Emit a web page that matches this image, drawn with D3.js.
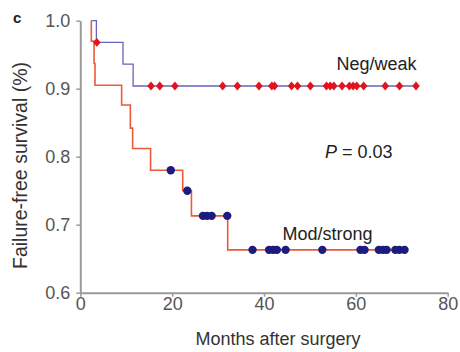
<!DOCTYPE html>
<html><head><meta charset="utf-8">
<script src="https://cdn.jsdelivr.net/npm/d3@7"></script>
<style>
html,body{margin:0;padding:0;background:#fff;}
svg{display:block;font-family:"Liberation Sans",Arial,Helvetica,sans-serif;}
</style></head>
<body>
<svg id="chart" width="460" height="352"></svg>
<script>
// Step curves (month, survival)
const negStepMonths = [2.4, 3.5, 9.3, 11.5, 73.1];
const negStepSurv   = [1.0, 0.968, 0.936, 0.904, 0.904];
const modStepMonths = [2.4, 2.4, 3.0, 3.2, 9.0, 10.9, 11.4, 15.3, 22.3, 24.2, 32.1, 70.6];
const modStepSurv   = [1.0, 0.970, 0.937, 0.905, 0.876, 0.842, 0.812, 0.780, 0.750, 0.713, 0.663, 0.663];
// Censored observations (months)
const negCensor = [3.6, 15.4, 17.3, 20.6, 31.0, 34.2, 38.9, 41.7, 42.3, 46.0, 47.3, 50.1, 53.6, 54.4, 55.2, 57.0, 58.6, 59.4, 60.2, 61.7, 66.4, 69.5, 73.1];
const modCensor = [19.7, 23.3, 26.7, 27.6, 28.6, 32.0, 37.5, 41.1, 42.0, 42.8, 44.7, 52.7, 61.0, 61.9, 65.0, 65.9, 66.7, 68.6, 69.5, 70.6];
const xTicks = [0, 20, 40, 60, 80];
const yTicks = [0.6, 0.7, 0.8, 0.9, 1.0];

const svg = d3.select("#chart");
const x = d3.scaleLinear().domain([0, 80]).range([80.3, 447.7]);
const y = d3.scaleLinear().domain([0.6, 1.0]).range([292.7, 20.7]);

const axisColor = "#9a9a9a";
const tickTextColor = "#555";

// axes
const xAxis = svg.append("g").attr("transform", `translate(0,${y(0.6)})`)
  .call(d3.axisBottom(x).tickValues(xTicks).tickFormat(d3.format("d")).tickSize(4).tickSizeOuter(0).tickPadding(1));
const yAxis = svg.append("g").attr("transform", `translate(${x(0)},0)`)
  .call(d3.axisLeft(y).tickValues(yTicks).tickFormat(d3.format(".1f")).tickSize(4).tickSizeOuter(0).tickPadding(6));
[xAxis, yAxis].forEach(g => {
  g.select(".domain").attr("stroke", axisColor).attr("stroke-width", 2);
  g.selectAll(".tick line").attr("stroke", axisColor).attr("stroke-width", 1.5);
  g.selectAll(".tick text").attr("fill", tickTextColor).attr("font-size", 18)
    .attr("font-family", "Liberation Sans, Arial, sans-serif");
});

function survAt(months, surv, t) {
  const i = d3.bisectRight(months, t) - 1;
  return surv[Math.max(0, i)];
}

const line = d3.line().x(d => x(d[0])).y(d => y(d[1])).curve(d3.curveStepAfter);
const modData = modStepMonths.map((m, i) => [m, modStepSurv[i]]);
const negData = negStepMonths.map((m, i) => [m, negStepSurv[i]]);

svg.append("path").datum(modData).attr("d", line)
  .attr("fill", "none").attr("stroke", "#ec5a3a").attr("stroke-width", 1.6);
svg.append("path").datum(negData).attr("d", line)
  .attr("fill", "none").attr("stroke", "#6464bc").attr("stroke-width", 1.3);

// censor marks
svg.append("g").selectAll("circle").data(modCensor).join("circle")
  .attr("cx", d => x(d)).attr("cy", d => y(survAt(modStepMonths, modStepSurv, d)))
  .attr("r", 4.2).attr("fill", "#1c1c7e");

const diamond = {draw(ctx, size) { const w = 3.8, h = 4.4; ctx.moveTo(0, -h); ctx.lineTo(w, 0); ctx.lineTo(0, h); ctx.lineTo(-w, 0); ctx.closePath(); }};
svg.append("g").selectAll("path").data(negCensor).join("path")
  .attr("transform", d => `translate(${x(d)},${y(survAt(negStepMonths, negStepSurv, d))})`)
  .attr("d", d3.symbol().type(diamond)).attr("fill", "#e0141e");

// labels
svg.append("text").attr("x", 13).attr("y", 23).attr("font-size", 15).attr("font-weight", "bold").attr("fill", "#222").text("c");
svg.append("text").attr("x", 336.5).attr("y", 70).attr("font-size", 18).attr("fill", "#222").text("Neg/weak");
svg.append("text").attr("x", 282.5).attr("y", 240).attr("font-size", 18).attr("fill", "#222").text("Mod/strong");
const p = svg.append("text").attr("x", 325).attr("y", 158.3).attr("font-size", 18).attr("fill", "#222");
p.append("tspan").attr("font-style", "italic").text("P");
p.append("tspan").text(" = 0.03");
svg.append("text").attr("x", 278).attr("y", 345).attr("text-anchor", "middle").attr("font-size", 18).attr("fill", "#333").text("Months after surgery");
svg.append("text").attr("transform", "translate(27,165.5) rotate(-90)").attr("text-anchor", "middle").attr("font-size", 19.5).attr("fill", "#333").text("Failure-free survival (%)");
</script>
</body></html>
